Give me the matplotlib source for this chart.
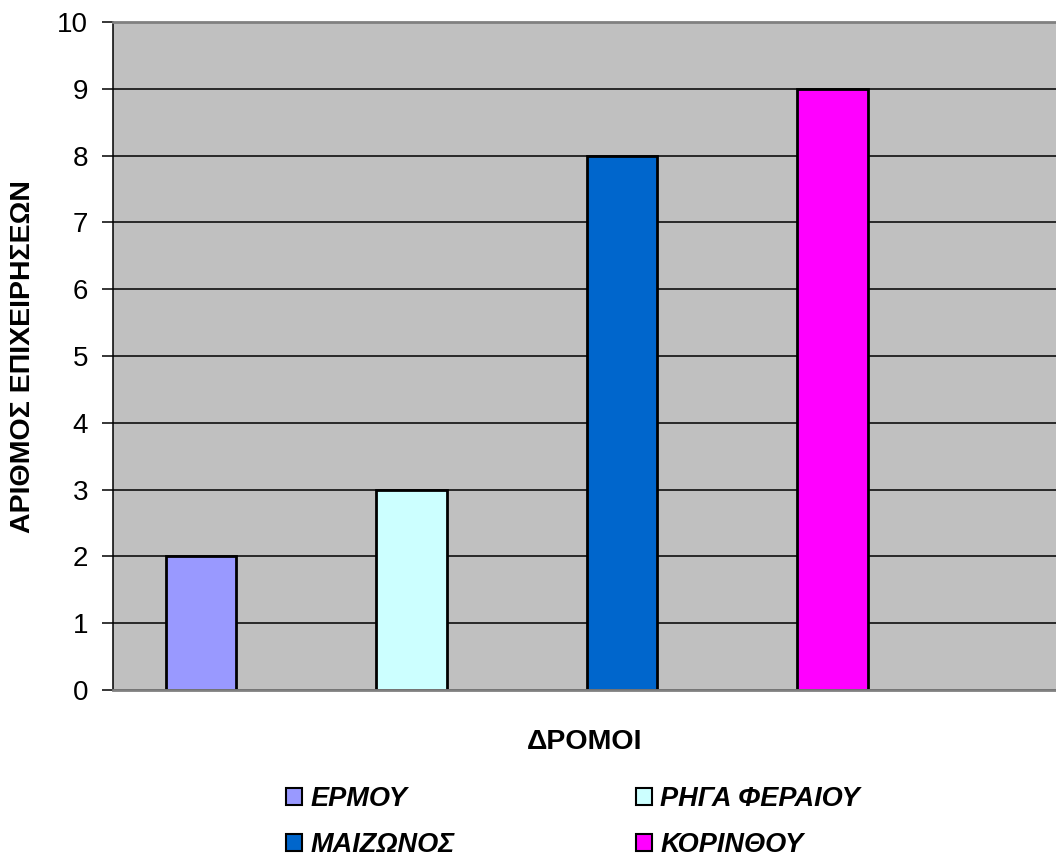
import matplotlib
matplotlib.use("Agg")
from matplotlib import pyplot as plt
from matplotlib.patches import Patch


streets = ["ΕΡΜΟΥ", "ΡΗΓΑ ΦΕΡΑΙΟΥ", "ΜΑΙΖΩΝΟΣ", "ΚΟΡΙΝΘΟΥ"]
businesses = [2, 3, 8, 9]
colors = ["#9999FF", "#CCFFFF", "#0066CC", "#FF00FF"]
y_ticks = list(range(0, 11))

plt.rcParams['font.family'] = ['Liberation Sans', 'DejaVu Sans']


def main():
	fig = plt.figure(figsize=(10.56, 8.61), dpi=100)
	ax = fig.add_axes([113/1056, 1 - 690/861, 1 - 113/1056, (690 - 22)/861])
	ax.set_facecolor("#C0C0C0")

	#gridlines under the bars
	ax.set_axisbelow(True)
	ax.yaxis.grid(True, color="black", linewidth=1.1)

	positions = list(range(len(streets)))
	for pos, val, col in zip(positions, businesses, colors):
		ax.bar(pos, val, width=0.333, color=col, edgecolor="black", linewidth=2)

	ax.set_xlim(-0.418, 4.062)
	ax.set_ylim(0, 10)
	ax.set_yticks(y_ticks)
	ax.set_xticks([])
	ax.tick_params(axis="y", labelsize=20, length=8, width=1.1, pad=10)

	for side in ["top", "right", "bottom"]:
		ax.spines[side].set_color("#808080")
		ax.spines[side].set_linewidth(2)
	ax.spines["right"].set_visible(False)
	ax.spines["left"].set_color("black")
	ax.spines["left"].set_linewidth(1.1)

	fig.text(23/1056, 1 - 357/861, "ΑΡΙΘΜΟΣ ΕΠΙΧΕΙΡΗΣΕΩΝ", fontsize=20.5, fontweight="bold",
		rotation=90, ha="center", va="center")
	fig.text(584.5/1056, 1 - 742/861, "ΔΡΟΜΟΙ", fontsize=20.5, fontweight="bold", ha="center", va="center")

	#legend goes row by row: reorder for column filling
	handles = [Patch(facecolor=c, edgecolor="black", linewidth=1.5) for c in colors]
	order = [0, 2, 1, 3]
	leg = fig.legend([handles[i] for i in order], [streets[i] for i in order],
		ncol=2, loc="center", bbox_to_anchor=(573/1056, 1 - 822/861),
		frameon=False, handlelength=0.6, handleheight=0.6, handletextpad=0.3,
		columnspacing=6.7, labelspacing=0.75,
		prop={"size": 19.5, "weight": "bold", "style": "italic"})

	fig.savefig("out.png", dpi=100)


if __name__ == "__main__":
	main()
